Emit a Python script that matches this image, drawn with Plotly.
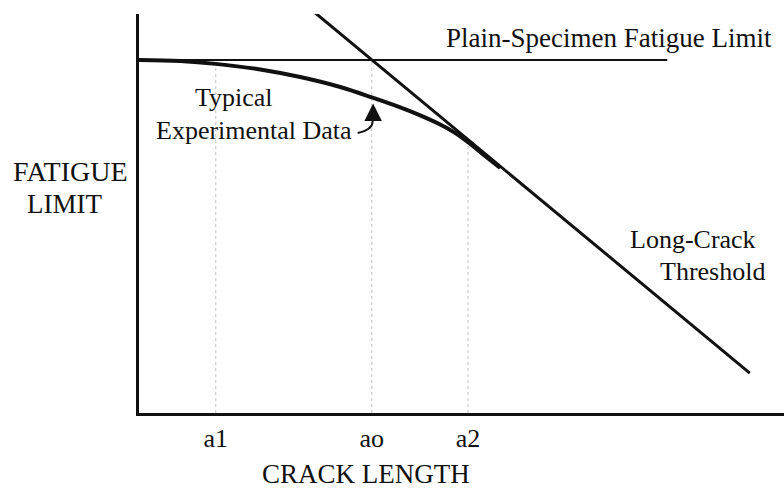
import plotly.graph_objects as go

# Kitagawa-type diagram: fatigue limit vs crack length (arbitrary linear units)
crack_marks = ["a1", "ao", "a2"]
crack_vals = [11.9, 36.1, 51.0]          # a1, ao, a2
mark_tops = [87.5, 88.5, 68.5]           # where each guide meets the curves

plain_limit = 88.5                       # plain-specimen fatigue limit
plain_x = [0.0, 81.9]

# long-crack threshold line
threshold_x = [27.0, 94.7]
threshold_y = [100.7, 10.0]

# typical experimental data (smooth transition curve)
exp_x = [0.0, 6.4, 11.9, 18.8, 25.0, 31.2, 36.1, 40.5, 43.6, 46.7, 49.0, 51.3, 53.6, 56.0]
exp_y = [88.5, 88.2, 87.5, 86.1, 84.2, 81.7, 79.1, 76.6, 74.6, 72.3, 70.2, 67.5, 64.5, 61.4]

# hooked pointer tail from the label to the curve
hook_x = [33.9, 35.0, 36.0, 36.3]
hook_y = [70.2, 70.7, 71.9, 74.2]

FONT = "Liberation Serif, Times New Roman, serif"
INK = "#111111"

fig = go.Figure()

# faint dotted guides at a1, ao, a2
for xv, top in zip(crack_vals, mark_tops):
    fig.add_trace(go.Scatter(x=[xv, xv], y=[0, top], mode="lines",
                             line=dict(color="#c4c4c4", width=1, dash="dot"),
                             hoverinfo="skip", showlegend=False))

fig.add_trace(go.Scatter(x=plain_x, y=[plain_limit, plain_limit], mode="lines",
                         line=dict(color=INK, width=2), showlegend=False))
fig.add_trace(go.Scatter(x=threshold_x, y=threshold_y, mode="lines",
                         line=dict(color=INK, width=3), showlegend=False))
fig.add_trace(go.Scatter(x=exp_x, y=exp_y, mode="lines", line_shape="spline",
                         line=dict(color=INK, width=4), showlegend=False))
fig.add_trace(go.Scatter(x=hook_x, y=hook_y, mode="lines", line_shape="spline",
                         line=dict(color=INK, width=2), showlegend=False))

W, H = 784, 488
L, R, T, B = 139, 0, 14, 75
pw, ph = W - L - R, H - T - B


def px(xp, yp):
    """pixel position on the page -> paper coordinates"""
    return (xp - L) / pw, (H - B - yp) / ph


def label(text, xp, yp, size=26):
    xr, yr = px(xp, yp)
    fig.add_annotation(text=text, x=xr, y=yr, xref="paper", yref="paper",
                       xanchor="center", yanchor="middle", showarrow=False,
                       font=dict(family=FONT, size=size, color=INK))


label("Plain-Specimen Fatigue Limit", 609, 38, 27)
label("Typical", 234, 97)
label("Experimental Data", 254, 130)
label("Long-Crack", 693, 239)
label("Threshold", 712, 271)
label("FATIGUE", 70, 171, 28)
label("LIMIT", 64, 204, 27)
label("CRACK LENGTH", 366, 474, 27)

# arrowhead of the pointer
fig.add_annotation(x=hook_x[-1], y=77.6, xref="x", yref="y", text="",
                   showarrow=True, arrowhead=2, arrowsize=1.4, arrowwidth=2.5,
                   arrowcolor=INK, ax=0, ay=14)

fig.update_layout(
    width=W, height=H, margin=dict(l=L, r=R, t=T, b=B),
    paper_bgcolor="white", plot_bgcolor="white",
    font=dict(family=FONT, color=INK),
)
fig.update_xaxes(range=[0, 100], showgrid=False, zeroline=False,
                 showline=True, linecolor=INK, linewidth=2.5,
                 tickmode="array", tickvals=crack_vals, ticktext=crack_marks,
                 ticks="", tickfont=dict(family=FONT, size=26, color=INK))
fig.update_yaxes(range=[0, 100], showgrid=False, zeroline=False,
                 showline=True, linecolor=INK, linewidth=2.5,
                 showticklabels=False, ticks="")

fig.write_html("out.html")
